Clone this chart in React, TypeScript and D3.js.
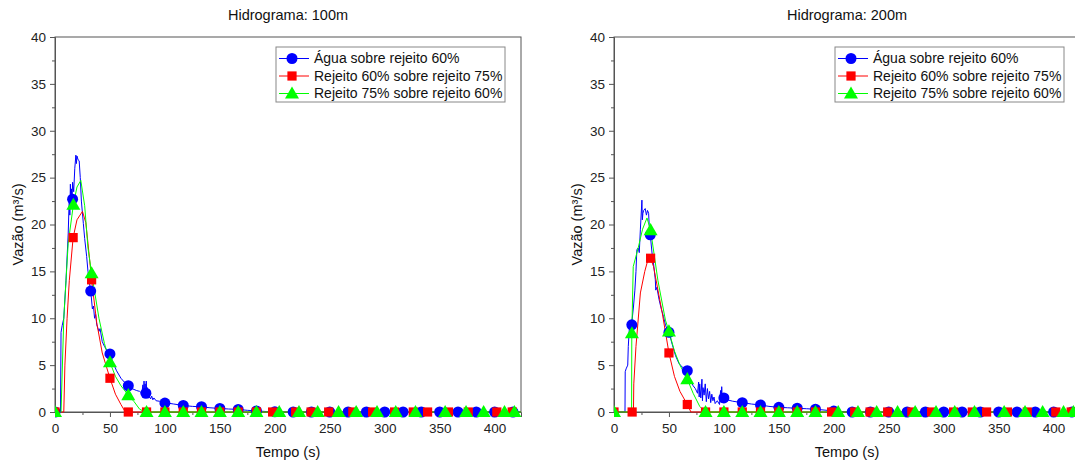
import { useEffect, useRef } from 'react';
import * as d3 from 'd3';

type Pt = [number, number];

const seriesNames = ['Água sobre rejeito 60%', 'Rejeito 60% sobre rejeito 75%', 'Rejeito 75% sobre rejeito 60%'];
const seriesColors = ['#0000ff', '#ff0000', '#00ff00'];
const seriesSymbols = [d3.symbolCircle, d3.symbolSquare, d3.symbolTriangle];
const symbolSizes = [95, 85, 85];
const xTicks = [0, 50, 100, 150, 200, 250, 300, 350, 400];
const yTicks = [0, 5, 10, 15, 20, 25, 30, 35, 40];
const panelTitles = ['Hidrograma: 100m', 'Hidrograma: 200m'];

// ---- 100m ----
const agua100: Pt[] = [
  [0, 0], [5, 0], [5.5, 8.5], [6.5, 9.2], [8, 10], [10, 14], [12, 19], [13, 23], [13.5, 21], [14, 24.3],
  [14.5, 22], [15, 23.8], [15.5, 22.5], [16, 24.5], [17, 23.5], [18, 26], [19, 27.4], [19.5, 26.5], [20, 27.3],
  [21, 26.9], [22, 26.8], [23, 25], [24, 22.5], [25.8, 20.1], [27, 18.5], [28.8, 16.6], [30, 15], [31, 14],
  [32.5, 12.9], [33, 12.3], [34, 11], [35, 11.3], [36, 10], [37, 10.4], [38, 9.3], [40, 8.6], [41, 8.9],
  [43, 7.5], [45, 7], [47, 6.6], [50, 6.2], [53, 5.2], [56, 4.4], [60, 3.6], [63, 3.2], [66.7, 2.8], [70, 2.5],
  [74, 2.3], [77, 2.2], [79, 2.0], [80, 2.9], [80.5, 1.6], [81, 3.3], [81.5, 1.7], [82, 3.0], [82.5, 1.5],
  [83, 3.3], [83.5, 1.8], [84, 2.6], [85, 1.5], [86, 1.6], [87, 1.4], [88, 1.7], [89, 1.3], [90, 1.5],
  [92, 1.2], [95, 1.15], [100, 1.0], [108, 0.85], [116.7, 0.7], [125, 0.6], [133.3, 0.55], [141, 0.45],
  [150, 0.38], [158, 0.32], [166.7, 0.28], [175, 0.18], [183.3, 0.12], [192, 0.05], [200, 0.02], [210, 0], [424, 0],
];
const agua100Markers: Pt[] = [
  [0, 0], [16, 22.7], [32.5, 12.9], [50, 6.2], [66.7, 2.8], [82.7, 2.0], [100, 0.95], [116.7, 0.7], [133.3, 0.57],
  [150, 0.38], [166.7, 0.28], [183.3, 0.12], [200, 0.02], [216.7, 0], [233.3, 0], [250, 0], [266.7, 0], [283.3, 0],
  [300, 0], [316.7, 0], [333.3, 0], [350, 0], [366.7, 0], [383.3, 0], [400, 0], [416.7, 0],
];
const rej60_100: Pt[] = [
  [0, 0], [8, 0], [9, 5], [11, 10], [13, 14], [16.5, 18.6], [20, 20.5], [25, 21.4], [28, 20.2], [30, 18],
  [33.3, 14.1], [38, 9.5], [43, 6.3], [50, 3.6], [55, 1.9], [60, 0.8], [64, 0], [424, 0],
];
const rej60_100Markers: Pt[] = [
  [0, 0], [16.5, 18.6], [33.3, 14.1], [50, 3.6], [66.7, 0], [83.3, 0], [100, 0], [116.7, 0], [133.3, 0], [150, 0],
  [166.7, 0], [183.3, 0], [198, 0], [219, 0], [233, 0], [249, 0], [271, 0], [289, 0], [309, 0], [326, 0],
  [339, 0], [358, 0], [376, 0], [402, 0], [416, 0],
];
const rej75_100: Pt[] = [
  [0, 0], [5.5, 0], [8, 10], [12, 18], [16.7, 22.1], [20, 24], [23.5, 24.7], [27, 22], [30, 17.5], [33.3, 14.8],
  [40, 10], [45, 7.3], [50, 5.3], [55, 3.8], [60, 2.8], [66.7, 1.8], [72, 1.1], [77, 0.3], [82, 0], [424, 0],
];
const rej75_100Markers: Pt[] = [
  [0, 0], [16.7, 22.1], [33.3, 14.8], [50, 5.3], [66.7, 1.8], [83.3, 0], [100, 0], [116.7, 0], [133.3, 0], [150, 0],
  [166.7, 0], [183.3, 0], [204, 0], [222, 0], [239, 0], [258, 0], [274, 0], [293, 0], [310, 0], [328, 0],
  [355, 0], [374, 0], [390, 0], [409, 0], [418, 0],
];

// ---- 200m ----
const agua200: Pt[] = [
  [0, 0], [10, 0], [10.2, 4.3], [11, 4.6], [12.5, 5], [13, 7], [14, 9], [16, 9.3], [17.7, 11.2], [19, 13],
  [20, 15], [20.8, 17.3], [22, 17.5], [23, 17], [24, 19.5], [25.4, 22.6], [25.8, 20.5], [26.3, 21.2], [27, 21.5],
  [28.4, 21.7], [29.5, 21], [30.5, 21.5], [31.5, 21.2], [32, 20], [33, 18.9], [35, 16.5], [36, 15.8], [37.6, 14.1],
  [38, 13], [39, 13.3], [41, 12], [43, 11], [45, 10.2], [47, 9.2], [50, 8.5], [53, 7.2], [56, 6], [59, 5.2],
  [62, 4.8], [64, 4.6], [66.7, 4.4], [69, 3.5], [72, 2.8], [74, 2.5], [76, 2.0], [77, 3.2], [77.5, 1.6], [78, 3.0],
  [79, 1.5], [80, 3.5], [80.5, 1.2], [81, 2.6], [82, 1.8], [83, 3.0], [84, 1.1], [85, 2.5], [86, 1.4], [87, 2.2],
  [88, 1.0], [89, 1.9], [90, 1.2], [91, 1.6], [92, 0.9], [94, 1.2], [96, 0.8], [97, 2.3], [97.5, 1.0], [98, 2.7],
  [98.5, 1.3], [100, 1.5], [103, 1.3], [108, 1.15], [116.7, 1.0], [125, 0.85], [133.3, 0.75], [141, 0.6],
  [150, 0.5], [158, 0.45], [166.7, 0.4], [175, 0.35], [183.3, 0.3], [192, 0.2], [200, 0.1], [210, 0.02], [220, 0], [424, 0],
];
const agua200Markers: Pt[] = [
  [16.2, 9.3], [33, 18.9], [50, 8.5], [66.7, 4.4], [100, 1.5], [116.7, 1.0], [133.3, 0.75], [150, 0.5],
  [166.7, 0.4], [183.3, 0.3], [200, 0.1], [216.7, 0], [233.3, 0], [250, 0], [266.7, 0], [283.3, 0], [300, 0],
  [316.7, 0], [333.3, 0], [350, 0], [366.7, 0], [383.3, 0], [400, 0], [416.7, 0],
];
const rej60_200: Pt[] = [
  [0, 0], [17.7, 0], [18, 3], [20, 7], [24, 12.7], [28, 15], [31, 16.3], [33.3, 16.4], [36, 15.5], [40, 13],
  [44, 10.5], [50, 6.3], [55, 3.8], [60, 2.2], [66.7, 0.8], [70, 0], [424, 0],
];
const rej60_200Markers: Pt[] = [
  [0, 0], [16.5, 0], [33.3, 16.4], [50, 6.3], [66.7, 0.8], [83.3, 0], [100, 0], [116.7, 0], [133.3, 0], [150, 0],
  [166.7, 0], [183.3, 0], [198, 0], [219, 0], [233, 0], [249, 0], [271, 0], [289, 0], [309, 0], [326, 0],
  [339, 0], [358, 0], [376, 0], [402, 0], [416, 0],
];
const rej75_200: Pt[] = [
  [0, 0], [16, 0], [16.2, 8.4], [17.5, 15.5], [22, 17.5], [26, 19.5], [30, 20.7], [33.3, 19.4], [40, 14],
  [46.8, 9.8], [50, 8.6], [55, 6.5], [60, 5], [66.7, 3.5], [72, 2], [78, 0.6], [83, 0], [424, 0],
];
const rej75_200Markers: Pt[] = [
  [0, 0], [16.3, 8.4], [33.3, 19.4], [50, 8.6], [66.7, 3.5], [83.3, 0], [100, 0], [116.7, 0], [133.3, 0], [150, 0],
  [166.7, 0], [183.3, 0], [204, 0], [222, 0], [239, 0], [258, 0], [274, 0], [293, 0], [310, 0], [328, 0],
  [355, 0], [374, 0], [390, 0], [409, 0], [418, 0],
];

const panelLines: Pt[][][] = [
  [agua100, rej60_100, rej75_100],
  [agua200, rej60_200, rej75_200],
];
const panelMarkers: Pt[][][] = [
  [agua100Markers, rej60_100Markers, rej75_100Markers],
  [agua200Markers, rej60_200Markers, rej75_200Markers],
];

const W = 1075;
const H = 463;
const FONT = '"Liberation Sans", Arial, sans-serif';
const AXIS = '#555';

const App = () => {
  const ref = useRef<SVGSVGElement | null>(null);

  useEffect(() => {
    const svg = d3.select(ref.current);
    svg.selectAll('*').remove();

    const top = 37;
    const bottom = 412;
    const lefts = [55, 614];
    const plotW = 466;

    panelTitles.forEach((title, p) => {
      const x0 = lefts[p];
      const x = d3.scaleLinear().domain([0, 424]).range([x0, x0 + plotW]);
      const y = d3.scaleLinear().domain([0, 40]).range([bottom, top]);
      const g = svg.append('g');

      const clipId = `clip-${p}`;
      svg.append('defs').append('clipPath').attr('id', clipId)
        .append('rect').attr('x', x0).attr('y', top - 8).attr('width', plotW + 8).attr('height', bottom - top + 16);

      // Frame
      g.append('rect')
        .attr('x', x0).attr('y', top).attr('width', plotW).attr('height', bottom - top)
        .attr('fill', 'none').attr('stroke', AXIS).attr('stroke-width', 1);

      // X axis
      const xAxis = g.append('g').attr('transform', `translate(0,${bottom})`)
        .call(d3.axisBottom(x).tickValues(xTicks).tickSize(5).tickPadding(6));
      xAxis.select('.domain').attr('stroke', AXIS);
      xAxis.selectAll('line').attr('stroke', AXIS);
      xAxis.selectAll('text').attr('font-family', FONT).attr('font-size', 13.5).attr('fill', '#222');
      g.append('g').attr('transform', `translate(0,${bottom})`)
        .call(d3.axisBottom(x).tickValues(xTicks.map((t) => t + 25).filter((t) => t < 424)).tickSize(3).tickFormat(() => ''))
        .call((a) => a.select('.domain').remove())
        .selectAll('line').attr('stroke', AXIS);

      // Y axis
      const yAxis = g.append('g').attr('transform', `translate(${x0},0)`)
        .call(d3.axisLeft(y).tickValues(yTicks).tickSize(5).tickPadding(4));
      yAxis.select('.domain').attr('stroke', AXIS);
      yAxis.selectAll('line').attr('stroke', AXIS);
      yAxis.selectAll('text').attr('font-family', FONT).attr('font-size', 13.5).attr('fill', '#222');
      g.append('g').attr('transform', `translate(${x0},0)`)
        .call(d3.axisLeft(y).tickValues(yTicks.slice(0, -1).map((t) => t + 2.5)).tickSize(3).tickFormat(() => ''))
        .call((a) => a.select('.domain').remove())
        .selectAll('line').attr('stroke', AXIS);

      // Titles
      g.append('text').attr('x', x0 + plotW / 2).attr('y', 20).attr('text-anchor', 'middle')
        .attr('font-family', FONT).attr('font-size', 14.5).attr('fill', '#111').text(title);
      g.append('text').attr('x', x0 + plotW / 2).attr('y', 457).attr('text-anchor', 'middle')
        .attr('font-family', FONT).attr('font-size', 14.5).attr('fill', '#111').text('Tempo (s)');
      g.append('text').attr('transform', `translate(${x0 - 32},${(top + bottom) / 2}) rotate(-90)`)
        .attr('text-anchor', 'middle')
        .attr('font-family', FONT).attr('font-size', 14.5).attr('fill', '#111').text('Vazão (m³/s)');

      // Series
      const line = d3.line<Pt>().x((d) => x(d[0])).y((d) => y(d[1]));
      const data = svg.append('g').attr('clip-path', `url(#${clipId})`);
      panelLines[p].forEach((series, i) => {
        data.append('path').datum(series).attr('d', line)
          .attr('fill', 'none').attr('stroke', seriesColors[i]).attr('stroke-width', 1);
      });
      panelMarkers[p].forEach((markers, i) => {
        const sym = d3.symbol().type(seriesSymbols[i]).size(symbolSizes[i]);
        data.selectAll(`.m${i}`).data(markers).enter().append('path')
          .attr('transform', (d) => `translate(${x(d[0])},${y(d[1]) + (i === 2 ? 1 : 0)})`)
          .attr('d', sym()).attr('fill', seriesColors[i]);
      });

      // Legend
      const lx = x0 + 221;
      const ly = 47;
      const leg = svg.append('g');
      leg.append('rect').attr('x', lx).attr('y', ly).attr('width', 229).attr('height', 55)
        .attr('fill', '#fff').attr('stroke', '#888').attr('stroke-width', 1);
      seriesNames.forEach((name, i) => {
        const cy = ly + 11.5 + i * 17.5;
        leg.append('line').attr('x1', lx + 3).attr('x2', lx + 33).attr('y1', cy).attr('y2', cy)
          .attr('stroke', seriesColors[i]).attr('stroke-width', 1);
        leg.append('path').attr('transform', `translate(${lx + 16},${cy + (i === 2 ? 1 : 0)})`)
          .attr('d', d3.symbol().type(seriesSymbols[i]).size(symbolSizes[i])()).attr('fill', seriesColors[i]);
        leg.append('text').attr('x', lx + 38).attr('y', cy).attr('dy', '0.35em')
          .attr('font-family', FONT).attr('font-size', 14).attr('fill', '#111').text(name);
      });
    });
  }, []);

  return (
    <svg ref={ref} width={W} height={H} style={{ position: 'absolute', left: 0, top: 0, background: '#fff' }} />
  );
};

export default App;
